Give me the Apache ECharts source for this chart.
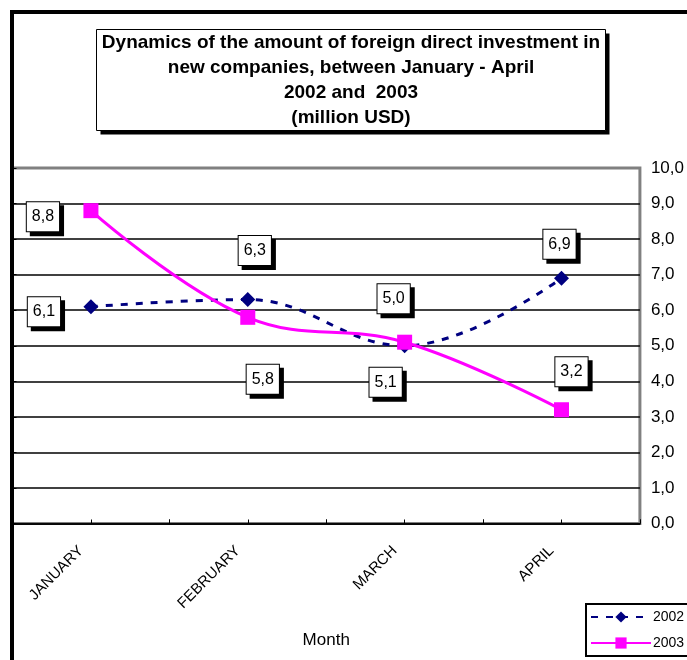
<!DOCTYPE html>
<html>
<head>
<meta charset="utf-8">
<script src="https://cdn.jsdelivr.net/npm/echarts@6/dist/echarts.min.js"></script>
<style>
html,body{margin:0;padding:0;background:#fff;}
#c{width:687px;height:660px;}
</style>
</head>
<body>
<div id="c"></div>
<script>
// ---- data ----
const months = ['JANUARY', 'FEBRUARY', 'MARCH', 'APRIL'];
const values2002 = [6.1, 6.3, 5.0, 6.9];
const values2003 = [8.8, 5.8, 5.1, 3.2];
const seriesNames = ['2002', '2003'];
const titleLines = [
  'Dynamics of the amount of foreign direct investment in',
  'new companies, between January - April',
  '2002 and  2003',
  '(million USD)'
];
const xAxisName = 'Month';

// ---- styling (label placement offsets, not data) ----
const off2002 = [[-47, 5], [7, -49], [-11, -47], [-2, -34]];
const off2003 = [[-48, 6], [15, 62], [-19, 40], [10, -38]];

const FONT = '"Liberation Sans", Arial, sans-serif';
const fmt = v => v.toFixed(1).replace('.', ',');

const labelBase = {
  show: true,
  position: 'inside',
  fontFamily: FONT,
  fontSize: 16,
  color: '#000',
  lineHeight: 18,
  backgroundColor: '#fff',
  borderColor: '#000',
  borderWidth: 1,
  padding: [6, 5, 5, 5],
  shadowColor: '#000',
  shadowBlur: 0,
  shadowOffsetX: 4,
  shadowOffsetY: 4,
  formatter: p => fmt(p.value)
};

function buildData(vals, offs) {
  return vals.map((v, i) => ({
    value: v,
    label: Object.assign({}, labelBase, { offset: offs[i] })
  }));
}

const chart = echarts.init(document.getElementById('c'), null, { renderer: 'canvas' });
chart.setOption({
  backgroundColor: '#fff',
  animation: false,
  textStyle: { fontFamily: FONT },
  grid: {
    left: 12.5, right: 46, top: 168, bottom: 136.5,
    show: true, borderColor: '#808080', borderWidth: 3, backgroundColor: 'transparent'
  },
  legend: {
    left: 586, top: 604,
    orient: 'vertical',
    backgroundColor: '#fff',
    borderColor: '#000', borderWidth: 2, borderRadius: 0,
    padding: [6, 8, 6, 4],
    itemWidth: 60, itemHeight: 14, itemGap: 12,
    textStyle: { fontFamily: FONT, fontSize: 14, color: '#000', padding: [0, 0, 0, -3] },
    data: seriesNames
  },
  xAxis: [{
    type: 'category',
    data: months,
    boundaryGap: true,
    name: xAxisName,
    nameLocation: 'middle',
    nameGap: 108,
    nameTextStyle: { fontFamily: FONT, fontSize: 17, color: '#000' },
    axisLine: { show: true, lineStyle: { color: '#000', width: 1.5 } },
    axisTick: { show: true, inside: true, length: 4, lineStyle: { color: '#000' } },
    axisLabel: {
      rotate: 45, margin: 15, fontFamily: FONT, fontSize: 15, color: '#000',
      padding: [0, 14, 0, 0]
    },
    splitLine: { show: false }
  }, {
    type: 'value', min: 0, max: 8, interval: 1, position: 'bottom',
    axisLine: { show: false },
    axisTick: { show: true, inside: true, length: 4, lineStyle: { color: '#000' } },
    axisLabel: { show: false },
    splitLine: { show: false }
  }],
  yAxis: {
    type: 'value',
    position: 'right',
    min: 0, max: 10, interval: 1,
    axisLine: { show: true, lineStyle: { color: '#000', width: 1.5 } },
    axisTick: { show: true, inside: false, length: 4, lineStyle: { color: '#000' } },
    axisLabel: { margin: 11, fontFamily: FONT, fontSize: 17, color: '#000', formatter: v => fmt(v) },
    splitLine: {
      show: true,
      lineStyle: {
        width: 1.5,
        color: ['#000', '#000', '#000', '#000', '#000', '#000', '#000', '#000', '#000', '#000', 'rgba(0,0,0,0)']
      }
    }
  },
  series: [{
    name: seriesNames[0],
    type: 'line',
    data: buildData(values2002, off2002),
    smooth: 0.4,
    symbol: 'diamond',
    symbolSize: 15,
    itemStyle: { color: '#000080' },
    lineStyle: { color: '#000080', width: 3, type: [7, 8] },
    z: 3
  }, {
    name: seriesNames[1],
    type: 'line',
    data: buildData(values2003, off2003),
    smooth: 0.4,
    symbol: 'rect',
    symbolSize: 15,
    itemStyle: { color: '#FF00FF' },
    lineStyle: { color: '#FF00FF', width: 3, type: 'solid' },
    z: 4
  }],
  graphic: [{
    type: 'rect',
    shape: { x: 12, y: 12, width: 900, height: 900 },
    style: { fill: null, stroke: '#000', lineWidth: 4 },
    z: 100, silent: true
  }, {
    type: 'group',
    z: 100,
    children: [{
      type: 'rect',
      shape: { x: 100.5, y: 33.5, width: 509, height: 101 },
      style: { fill: '#000' }
    }, {
      type: 'rect',
      shape: { x: 96.5, y: 29.5, width: 509, height: 101 },
      style: { fill: '#fff', stroke: '#000', lineWidth: 1 }
    }, {
      type: 'text',
      x: 351, y: 80,
      style: {
        text: titleLines.join('\n'),
        font: 'bold 19px ' + FONT,
        lineHeight: 25,
        fill: '#000',
        align: 'center',
        verticalAlign: 'middle'
      }
    }]
  }]
});
</script>
</body>
</html>
